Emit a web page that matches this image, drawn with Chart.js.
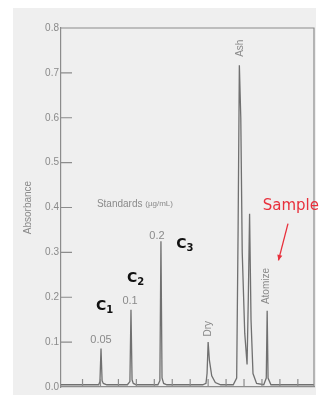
<!DOCTYPE html>
<html>
<head>
<meta charset="utf-8">
<script src="https://cdn.jsdelivr.net/npm/chart.js@4"></script>
<style>
  html, body { margin: 0; padding: 0; background: #fff; }
  #wrap { width: 321px; height: 395px; }
</style>
</head>
<body>
<div id="wrap"><canvas id="traceChart" width="321" height="395"></canvas></div>
<script>
/* =========================
   DATA
========================= */

// time axis (arbitrary units) and absorbance of the trace
const times = [0, 21, 21.7, 22.3, 22.9, 23.6, 25.5, 37, 38.4, 39, 39.6, 40.3, 42, 54, 55.1, 55.7, 56.3, 57.2, 59,
  79, 80.8, 81.4, 82, 82.7, 84, 86, 89, 96, 97.9, 98.7, 99.4, 100.2, 101, 102.4, 103.7, 104.4, 105.1, 105.9, 107, 109,
  113, 114.4, 114.9, 115.4, 117, 120, 141];
const absorbance = [0.005, 0.005, 0.012, 0.086, 0.014, 0.008, 0.005, 0.005, 0.012, 0.172, 0.016, 0.008, 0.005, 0.005, 0.014, 0.325, 0.02, 0.008, 0.005,
  0.005, 0.008, 0.03, 0.10, 0.06, 0.025, 0.01, 0.005, 0.005, 0.02, 0.35, 0.717, 0.6, 0.3, 0.12, 0.05, 0.2, 0.386, 0.15, 0.03, 0.008,
  0.005, 0.02, 0.17, 0.02, 0.005, 0.005, 0.005];

const yTicks = [0, 0.1, 0.2, 0.3, 0.4, 0.5, 0.6, 0.7, 0.8];
const xMinorTicks = [12, 22, 32, 42, 52, 62, 72, 82, 92, 102, 112, 122, 132];

const standardLabels = ["0.05", "0.1", "0.2"];
const standardNames = ["1", "2", "3"];
const stepLabels = ["Dry", "Ash", "Atomize"];


/* =========================
   DECORATION PLUGIN
========================= */

const decor = {
    id: "decor",
    beforeDraw(chart) {
        const c = chart.ctx;
        c.save();
        c.fillStyle = "#efefef";
        c.fillRect(13, 8, 303, 387);
        c.restore();
    },
    afterDraw(chart) {
        const c = chart.ctx;
        const x = chart.scales.x;
        const y = chart.scales.y;
        const a = chart.chartArea;
        const px = v => x.getPixelForValue(v);
        const py = v => y.getPixelForValue(v);

        c.save();
        c.strokeStyle = "#8c8c8c";
        c.lineWidth = 1.2;

        // frame: top and right
        c.beginPath();
        c.moveTo(a.left, a.top);
        c.lineTo(a.right, a.top);
        c.lineTo(a.right, a.bottom);
        c.stroke();

        // inward y ticks
        c.beginPath();
        yTicks.slice(1, -1).forEach(t => {
            c.moveTo(a.left, py(t));
            c.lineTo(a.left + 11, py(t));
        });
        // inward x minor ticks
        xMinorTicks.forEach(t => {
            c.moveTo(px(t), a.bottom);
            c.lineTo(px(t), a.bottom - 8);
        });
        c.stroke();

        // standards labels
        c.fillStyle = "#8a8a8a";
        c.font = "11px 'Liberation Sans', Arial, sans-serif";
        c.textAlign = "center";
        c.textBaseline = "middle";
        c.fillText(standardLabels[0], px(22.3), py(0.104));
        c.fillText(standardLabels[1], px(38.5), py(0.192));
        c.fillText(standardLabels[2], px(53.5), py(0.336));

        c.textAlign = "left";
        c.font = "10px 'Liberation Sans', Arial, sans-serif";
        c.fillText("Standards", px(20), py(0.408));
        const w = c.measureText("Standards ").width;
        c.font = "8px 'Liberation Sans', Arial, sans-serif";
        c.fillText("(µg/mL)", px(20) + w, py(0.408));

        // C1..C3
        const cPos = [[19.5, 0.179], [36.8, 0.241], [64.2, 0.318]];
        cPos.forEach((p, i) => {
            c.fillStyle = "#111";
            c.font = "bold 14px 'DejaVu Sans', Verdana, sans-serif";
            c.textAlign = "left";
            c.fillText("C", px(p[0]), py(p[1]));
            const cw = c.measureText("C").width;
            c.font = "bold 10px 'DejaVu Sans', Verdana, sans-serif";
            c.fillText(standardNames[i], px(p[0]) + cw, py(p[1]) + 4);
        });

        // rotated step labels
        c.fillStyle = "#8a8a8a";
        c.font = "10px 'Liberation Sans', Arial, sans-serif";
        c.textAlign = "center";
        const stepPos = [[82, 0.130], [99.8, 0.755], [114.3, 0.225]];
        stepPos.forEach((p, i) => {
            c.save();
            c.translate(px(p[0]), py(p[1]));
            c.rotate(-Math.PI / 2);
            c.fillText(stepLabels[i], 0, 0);
            c.restore();
        });

        // sample note and arrow
        c.fillStyle = "#e8303c";
        c.strokeStyle = "#e8303c";
        c.font = "15px 'DejaVu Sans', Verdana, sans-serif";
        c.textAlign = "left";
        c.fillText("Sample", px(112.4), py(0.404));
        const x1 = px(126.5), y1 = py(0.364), x2 = px(121.2), y2 = py(0.282);
        c.lineWidth = 1.3;
        c.beginPath();
        c.moveTo(x1, y1);
        c.lineTo(x2, y2);
        c.stroke();
        const ang = Math.atan2(y2 - y1, x2 - x1);
        c.beginPath();
        c.moveTo(x2, y2);
        c.lineTo(x2 - 6 * Math.cos(ang - 0.45), y2 - 6 * Math.sin(ang - 0.45));
        c.lineTo(x2 - 6 * Math.cos(ang + 0.45), y2 - 6 * Math.sin(ang + 0.45));
        c.closePath();
        c.fill();

        c.restore();
    }
};


/* =========================
   CHART
========================= */

new Chart(document.getElementById("traceChart"), {
    type: "line",
    data: {
        datasets: [{
            data: times.map((t, i) => ({ x: t, y: absorbance[i] })),
            borderColor: "#707070",
            borderWidth: 1.3,
            pointRadius: 0,
            tension: 0,
            fill: false
        }]
    },
    options: {
        responsive: false,
        animation: false,
        events: [],
        layout: { padding: { top: 28, right: 7, bottom: 5, left: 22 } },
        plugins: { legend: { display: false }, tooltip: { enabled: false } },
        scales: {
            x: {
                type: "linear",
                min: 0,
                max: 141,
                afterFit: s => { s.height = 0; },
                ticks: { display: false },
                grid: { display: false, drawTicks: false },
                border: { display: true, color: "#8c8c8c", width: 1.2 }
            },
            y: {
                min: 0,
                max: 0.8,
                afterFit: s => { s.width = 39; },
                afterBuildTicks: s => { s.ticks = yTicks.map(v => ({ value: v })); },
                ticks: {
                    padding: 2,
                    color: "#8a8a8a",
                    font: { family: "'Liberation Sans', Arial, sans-serif", size: 10 },
                    callback: v => v.toFixed(1)
                },
                grid: { display: false, drawTicks: false },
                border: { display: true, color: "#8c8c8c", width: 1.2 },
                title: {
                    display: true,
                    text: "Absorbance",
                    color: "#8a8a8a",
                    padding: { top: 0, bottom: 0 },
                    font: { family: "'Liberation Sans', Arial, sans-serif", size: 10 }
                }
            }
        }
    },
    plugins: [decor]
});
</script>
</body>
</html>
